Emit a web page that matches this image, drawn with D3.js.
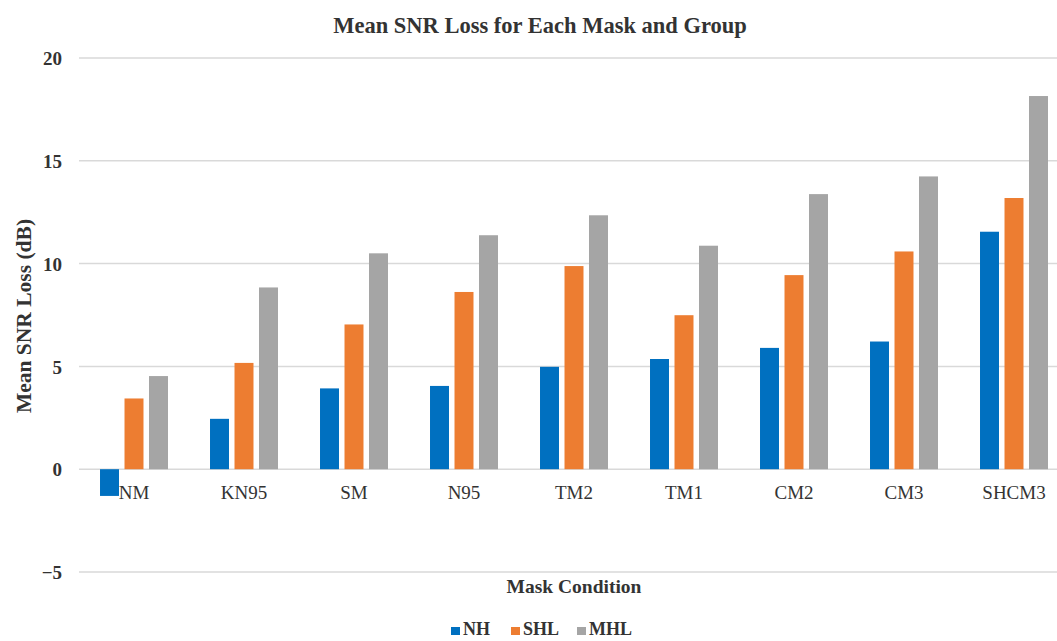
<!DOCTYPE html>
<html>
<head>
<meta charset="utf-8">
<script src="https://cdn.jsdelivr.net/npm/d3@7"></script>
<style>
  html, body { margin: 0; padding: 0; background: #fff; }
  svg { display: block; }
  svg text { font-family: "Liberation Serif", "DejaVu Serif", serif; }
</style>
</head>
<body>
<svg id="chart" width="1057" height="641"></svg>
<script>
const categories = ["NM", "KN95", "SM", "N95", "TM2", "TM1", "CM2", "CM3", "SHCM3"];
const seriesNames = ["NH", "SHL", "MHL"];
const NH  = [-1.3, 2.45, 3.93, 4.05, 4.98, 5.36, 5.9, 6.21, 11.55];
const SHL = [3.44, 5.17, 7.04, 8.62, 9.88, 7.49, 9.44, 10.59, 13.19];
const MHL = [4.53, 8.84, 10.5, 11.38, 12.35, 10.87, 13.38, 14.24, 18.15];
const yTicks = [-5, 0, 5, 10, 15, 20];
const colors = ["#0070C0", "#ED7D31", "#A5A5A5"];

const seriesValues = [NH, SHL, MHL];
const data = categories.map((c, i) => ({
  cat: c,
  vals: seriesNames.map((s, j) => ({ key: s, value: seriesValues[j][i] }))
}));

const svg = d3.select("#chart");

const x0 = d3.scaleBand().domain(categories).range([79, 1069]).paddingInner(0.382).paddingOuter(0.191);
const x1 = d3.scaleBand().domain(seriesNames).range([0, x0.bandwidth()]).paddingInner(0.225);
const y = d3.scaleLinear().domain([-5, 20]).range([572, 58]);
const color = d3.scaleOrdinal().domain(seriesNames).range(colors);

// gridlines
svg.append("g").selectAll("line").data(yTicks).join("line")
  .attr("x1", 79).attr("x2", 1057)
  .attr("y1", d => y(d)).attr("y2", d => y(d))
  .attr("stroke", "#d9d9d9").attr("stroke-width", 1.5);

// y axis labels
const yAxis = d3.axisLeft(y).tickValues(yTicks).tickSize(0).tickPadding(0)
  .tickFormat(d => d < 0 ? "\u2212" + Math.abs(d) : d);
const gy = svg.append("g").attr("transform", "translate(62,0)").call(yAxis);
gy.select(".domain").remove();
gy.attr("font-family", null);
gy.selectAll("text").attr("font-size", 19)
  .attr("font-weight", "bold").attr("fill", "#333").attr("dy", "0.35em");

// bars
const groups = svg.append("g").selectAll("g").data(data).join("g")
  .attr("transform", d => `translate(${x0(d.cat)},0)`);
groups.selectAll("rect").data(d => d.vals).join("rect")
  .attr("x", d => x1(d.key))
  .attr("width", x1.bandwidth())
  .attr("y", d => y(Math.max(0, d.value)))
  .attr("height", d => Math.abs(y(d.value) - y(0)))
  .attr("fill", d => color(d.key));

// category labels
const xAxis = d3.axisBottom(x0).tickSize(0).tickPadding(0);
const gx = svg.append("g").attr("transform", "translate(0,499)").call(xAxis);
gx.select(".domain").remove();
gx.attr("font-family", null);
gx.selectAll("text").attr("font-size", 19)
  .attr("fill", "#333").attr("dy", 0);

// title
svg.append("text").attr("x", 540).attr("y", 33).attr("text-anchor", "middle")
  .attr("font-weight", "bold").attr("font-size", 22.5)
  .attr("fill", "#333").text("Mean SNR Loss for Each Mask and Group");

// y title
svg.append("text").attr("transform", "translate(31,316) rotate(-90)")
  .attr("text-anchor", "middle").attr("font-weight", "bold")
  .attr("font-size", 21.5).attr("fill", "#333").text("Mean SNR Loss (dB)");

// x title
svg.append("text").attr("x", 574).attr("y", 593).attr("text-anchor", "middle")
  .attr("font-weight", "bold").attr("font-size", 19.5)
  .attr("fill", "#333").text("Mask Condition");

// legend
const legendX = [451, 511, 577];
const lg = svg.append("g").selectAll("g").data(seriesNames).join("g")
  .attr("transform", (d, i) => `translate(${legendX[i]},635)`);
lg.append("rect").attr("x", 0).attr("y", -8).attr("width", 9).attr("height", 8)
  .attr("fill", d => color(d));
lg.append("text").attr("x", 12).attr("y", 0)
  .attr("font-weight", "bold").attr("font-size", 18).attr("fill", "#333").text(d => d);
</script>
</body>
</html>
